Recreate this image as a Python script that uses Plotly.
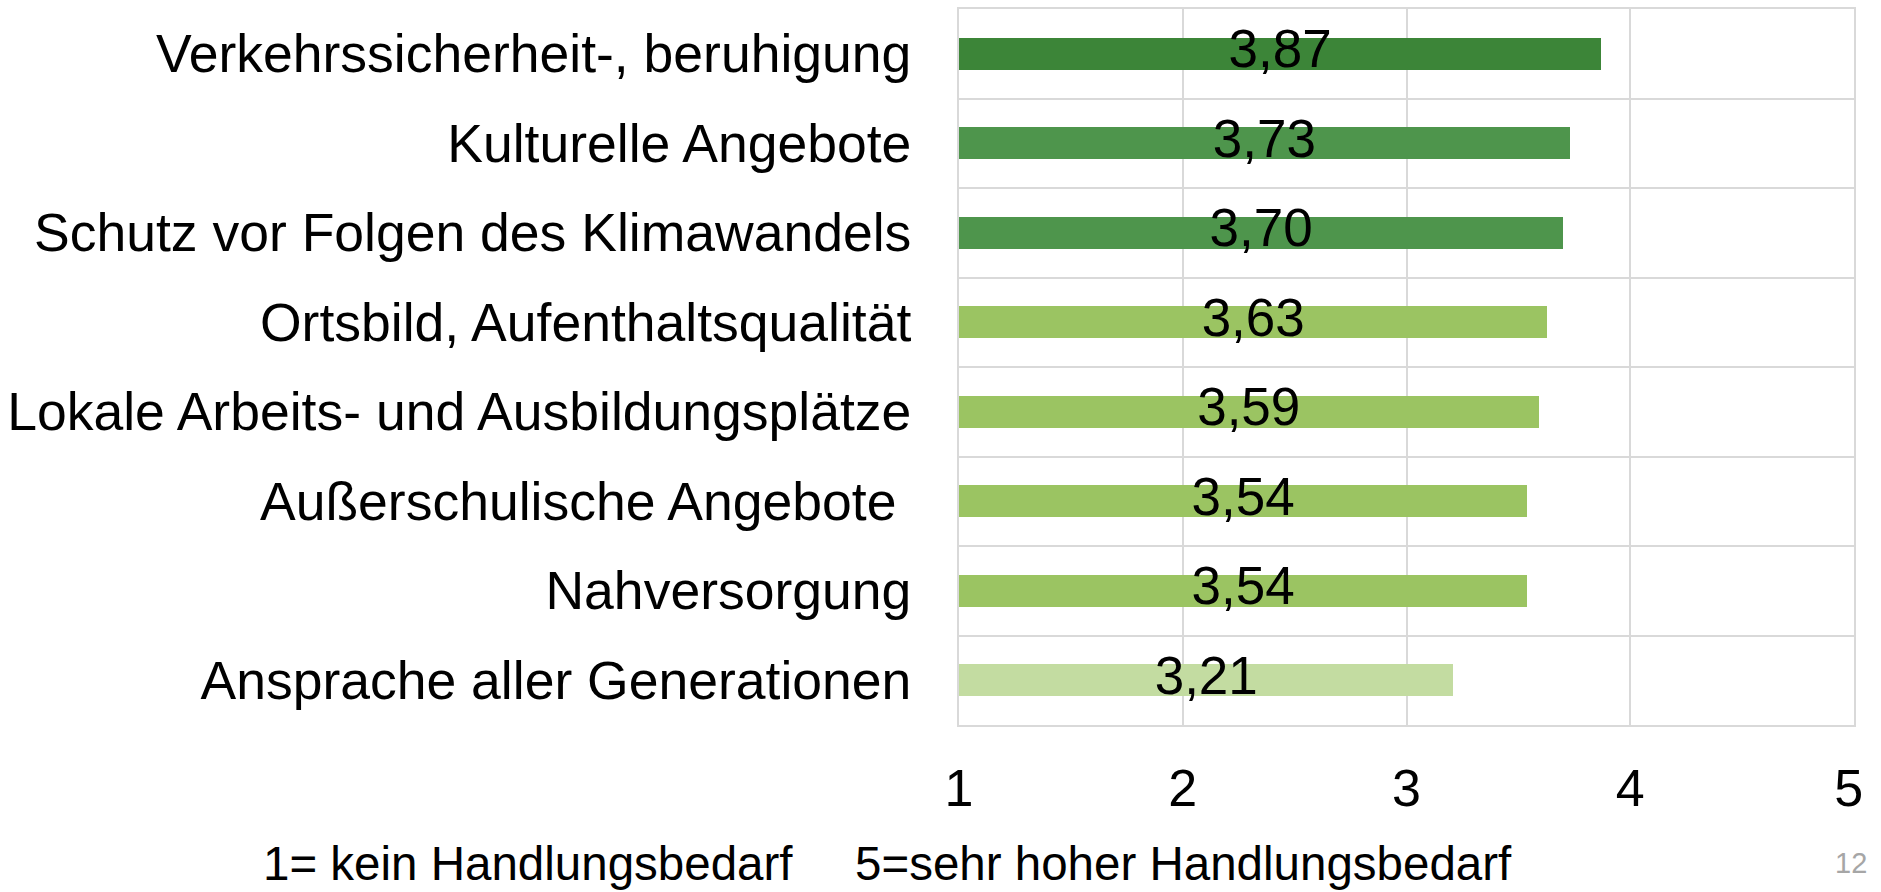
import plotly.graph_objects as go

categories = [
    "Verkehrssicherheit-, beruhigung",
    "Kulturelle Angebote",
    "Schutz vor Folgen des Klimawandels",
    "Ortsbild, Aufenthaltsqualität",
    "Lokale Arbeits- und Ausbildungsplätze",
    "Außerschulische Angebote ",
    "Nahversorgung",
    "Ansprache aller Generationen",
]
values = [3.87, 3.73, 3.70, 3.63, 3.59, 3.54, 3.54, 3.21]
bar_colors = ["#3c8538", "#4e954c", "#4e954c", "#9bc462", "#9bc462", "#9bc462", "#9bc462", "#c3dca1"]
x_ticks = [1, 2, 3, 4, 5]
x_tick_labels = ["1", "2", "3", "4", "5\u2009"]
axis_min = 1
footnote_left = "1= kein Handlungsbedarf"
footnote_right = "5=sehr hoher Handlungsbedarf"
page_no = "12"

FONT = "Liberation Sans, Arial, sans-serif"
GRID = "#d9d9d9"

ypos = list(range(len(categories)))

fig = go.Figure()
fig.add_trace(go.Bar(
    y=ypos,
    x=[v - axis_min for v in values],
    base=[axis_min] * len(values),
    orientation="h",
    marker=dict(color=bar_colors, line=dict(width=0)),
    width=0.356,
    hoverinfo="skip",
    showlegend=False,
))
fig.add_trace(go.Scatter(
    y=ypos,
    x=[(axis_min + v) / 2 for v in values],
    mode="text",
    text=[f"{v:.2f}".replace(".", ",") for v in values],
    textposition="middle center",
    textfont=dict(family=FONT, size=53, color="#000000"),
    hoverinfo="skip",
    showlegend=False,
))

fig.update_layout(
    width=1881,
    height=892,
    margin=dict(l=957, r=19, t=7, b=167),
    paper_bgcolor="white",
    plot_bgcolor="white",
    font=dict(family=FONT, size=52, color="#000000"),
    bargap=0,
)
fig.update_xaxes(
    range=[1, 5],
    tickvals=x_ticks,
    ticktext=x_tick_labels,
    showgrid=True,
    gridcolor=GRID,
    gridwidth=2,
    showline=True,
    linecolor=GRID,
    linewidth=2,
    mirror=True,
    zeroline=False,
    ticks="",
    ticklabelstandoff=17,
    ticklabeloverflow="allow",
    tickfont=dict(family=FONT, size=52),
)
fig.update_yaxes(
    range=[len(categories) - 0.5, -0.5],
    tickvals=ypos,
    ticktext=categories,
    showgrid=False,
    zeroline=False,
    showline=True,
    linecolor=GRID,
    linewidth=2,
    mirror=True,
    ticks="",
    ticklabelstandoff=35,
    tickfont=dict(family=FONT, size=53.5),
    minor=dict(
        tickvals=[i - 0.5 for i in range(len(categories) + 1)],
        showgrid=True,
        gridcolor=GRID,
        gridwidth=2,
        ticks="",
    ),
)

fig.add_annotation(
    text=footnote_left, xref="paper", yref="paper",
    x=-0.780, y=-0.1940, xanchor="left", yanchor="middle",
    showarrow=False, font=dict(family=FONT, size=47.5, color="#000000"),
)
fig.add_annotation(
    text=footnote_right, xref="paper", yref="paper",
    x=-0.1182, y=-0.1940, xanchor="left", yanchor="middle",
    showarrow=False, font=dict(family=FONT, size=47.5, color="#000000"),
)
fig.add_annotation(
    text=page_no, xref="paper", yref="paper",
    x=0.9967, y=-0.1922, xanchor="center", yanchor="middle",
    showarrow=False, font=dict(family=FONT, size=29, color="#a6a6a6"),
)

fig.write_html(
    "out.html",
    config={"displayModeBar": False},
    post_script="document.body.style.margin='0';document.body.style.overflow='hidden';",
)
